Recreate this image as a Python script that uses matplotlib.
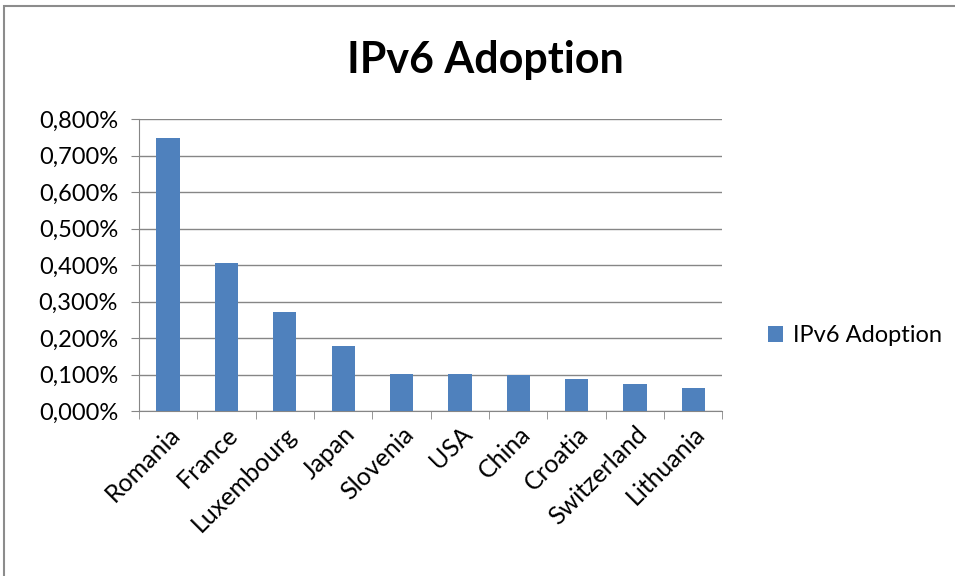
import matplotlib.pyplot as plt
import matplotlib.patches as mpatches
from matplotlib.ticker import FuncFormatter, MultipleLocator, FixedLocator
import numpy as np

countries = ['Romania', 'France', 'Luxembourg', 'Japan', 'Slovenia', 'USA',
             'China', 'Croatia', 'Switzerland', 'Lithuania']
adoption = [0.748, 0.405, 0.272, 0.180, 0.102, 0.102, 0.100, 0.088, 0.075, 0.065]

plt.rcParams['font.family'] = ['Lato', 'DejaVu Sans']

fig = plt.figure(figsize=(9.55, 5.76), dpi=100)
ax = fig.add_axes([0.1455, 0.286, 0.611, 0.507])

x = np.arange(len(countries))
ax.bar(x, adoption, width=0.4, color='#4F81BD', label='IPv6 Adoption', zorder=3)

ax.set_xlim(-0.5, len(countries) - 0.5)
ax.set_ylim(0, 0.8)
ax.yaxis.set_major_locator(MultipleLocator(0.1))
ax.yaxis.set_major_formatter(FuncFormatter(lambda v, p: ('%.3f%%' % v).replace('.', ',')))
ax.grid(axis='y', color='#868686', linewidth=1, zorder=0)

ax.set_xticks(x)
ax.set_xticklabels(countries, rotation=45, ha='right', rotation_mode='anchor')
ax.tick_params(axis='x', length=0, labelsize=18, pad=8, labelcolor='#000000')
# tick marks between categories
ax.xaxis.set_minor_locator(FixedLocator(np.arange(-0.5, len(countries), 1)))
ax.tick_params(axis='x', which='minor', length=6, color='#868686')
ax.tick_params(axis='y', length=6, color='#868686', labelsize=17, pad=9)

for side in ['top', 'right']:
    ax.spines[side].set_visible(False)
for side in ['left', 'bottom']:
    ax.spines[side].set_color('#868686')

fig.text(0.508, 0.896, 'IPv6 Adoption', ha='center', va='center',
         fontsize=31, fontweight='bold')

fig.legend(loc='center left', bbox_to_anchor=(0.782, 0.417), frameon=False,
           fontsize=17, handlelength=0.65, handleheight=0.65, handletextpad=0.4)

# chart frame, cut off at right and bottom like the source
fig.patches.append(mpatches.Rectangle((0.004, -0.1), 1.1, 1.09, transform=fig.transFigure,
                                      fill=False, edgecolor='#8c8c8c', linewidth=1.5))

fig.savefig('out.png', dpi=100)
